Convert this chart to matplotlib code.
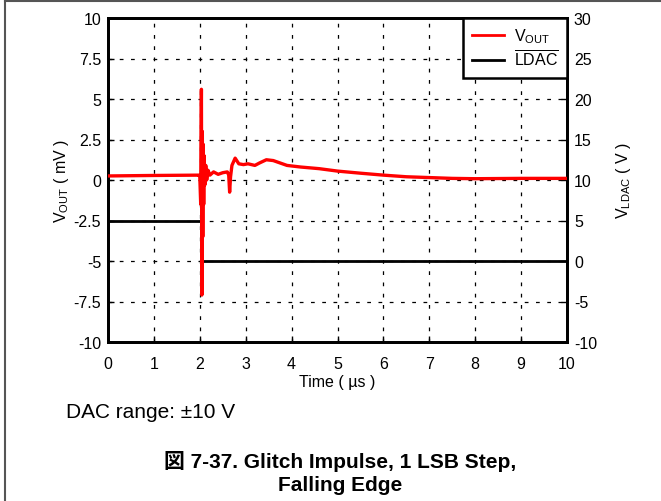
import matplotlib
matplotlib.use("Agg")
import matplotlib.pyplot as plt
from matplotlib.lines import Line2D

plt.rcParams['font.family'] = ['Liberation Sans', 'Noto Sans CJK JP', 'DejaVu Sans']
plt.rcParams['mathtext.default'] = 'regular'
plt.rcParams['axes.unicode_minus'] = False

# VOUT trace (mV) vs time (us)
t_vout = [0.0, 1.0, 1.98, 2.00, 2.02, 2.035, 2.045, 2.055, 2.065, 2.075, 2.085, 2.095,
          2.11, 2.13, 2.15, 2.18, 2.22, 2.30, 2.40, 2.50, 2.60, 2.63, 2.65, 2.67, 2.70,
          2.77, 2.85, 2.95, 3.05, 3.20, 3.30, 3.45, 3.60, 3.75, 3.90, 4.20, 4.60, 5.00,
          5.50, 6.00, 6.50, 7.00, 7.50, 8.00, 9.00, 10.0]
v_vout = [0.25, 0.28, 0.3, 0.2, -1.5, 5.6, -7.1, 3.0, -3.5, 2.2, -1.5, 1.5,
          -0.3, 0.9, 0.0, 0.6, 0.3, 0.5, 0.35, 0.45, 0.5, 0.3, -0.75, 0.2, 0.9,
          1.35, 1.0, 0.95, 1.0, 0.9, 1.05, 1.25, 1.2, 1.05, 0.9, 0.8, 0.7, 0.55,
          0.42, 0.3, 0.2, 0.15, 0.1, 0.08, 0.1, 0.1]

# LDAC trace (V) vs time (us)
t_ldac = [0.0, 2.03, 2.03, 10.0]
v_ldac = [5.0, 5.0, 0.0, 0.0]

x_ticks = list(range(0, 11))
y_left_ticks = [-10, -7.5, -5, -2.5, 0, 2.5, 5, 7.5, 10]
y_left_labels = ['-10', '-7.5', '-5', '-2.5', '0', '2.5', '5', '7.5', '10']
y_right_ticks = [-10, -5, 0, 5, 10, 15, 20, 25, 30]

fig = plt.figure(figsize=(6.61, 5.02), dpi=100)
ax = fig.add_axes([108/661, 1-343/502, (567-108)/661, (343-19)/502])
ax2 = ax.twinx()

ax.plot(t_vout, v_vout, color='#ff0000', lw=2.4, zorder=3, solid_joinstyle='round')
ax2.plot(t_ldac, v_ldac, color='black', lw=2.0, zorder=2)

ax.set_xlim(0, 10)
ax.set_ylim(-10, 10)
ax2.set_ylim(-10, 30)
ax.set_xticks(x_ticks)
ax.set_yticks(y_left_ticks)
ax.set_yticklabels(y_left_labels)
ax2.set_yticks(y_right_ticks)

fs = 11.5
for a in (ax, ax2):
    a.tick_params(direction='in', length=4, width=1, labelsize=fs, pad=5)
    for s in a.spines.values():
        s.set_linewidth(2)
ax.tick_params(axis='x', pad=10)
ax.grid(True, color='black', linestyle=(0, (3, 6)), linewidth=0.9)

ax.set_xlabel('Time ( µs )', fontsize=fs, labelpad=2)
ax.set_ylabel(r'$V_{OUT}$ ( mV )', fontsize=fs, labelpad=2)
ax2.set_ylabel(r'$V_{LDAC}$ ( V )', fontsize=fs, labelpad=12)

h1 = Line2D([], [], color='#ff0000', lw=2)
h2 = Line2D([], [], color='black', lw=2)
leg = ax.legend([h1, h2], [r'$V_{OUT}$', r'$\overline{LDAC}$'], loc='upper right',
                fontsize=fs, frameon=True, fancybox=False, borderaxespad=0,
                handlelength=2.0, labelspacing=0.2, borderpad=0.55, handletextpad=0.6)
leg.get_frame().set_edgecolor('black')
leg.get_frame().set_linewidth(1.8)
leg.get_frame().set_alpha(1)
ax.patch.set_visible(False)
ax2.patch.set_visible(True)
ax2.patch.set_facecolor('white')
ax.set_zorder(2)
ax2.set_zorder(1)

fig.text(66/661, 1-412/502, 'DAC range: ±10 V', fontsize=15, ha='left', va='center')
fig.text(340/661, 1-462/502, '図 7-37. Glitch Impulse, 1 LSB Step,', fontsize=15,
         fontweight='bold', ha='center', va='center')
fig.text(340/661, 1-486/502, 'Falling Edge', fontsize=15,
         fontweight='bold', ha='center', va='center')

# figure border (left and top)
fig.add_artist(Line2D([5/661, 5/661], [0, 1-2/502], transform=fig.transFigure,
                      color='#555555', lw=1.5))
fig.add_artist(Line2D([5/661, 1], [1-2/502, 1-2/502], transform=fig.transFigure,
                      color='#555555', lw=1.5))

fig.savefig('out.png', dpi=100)
